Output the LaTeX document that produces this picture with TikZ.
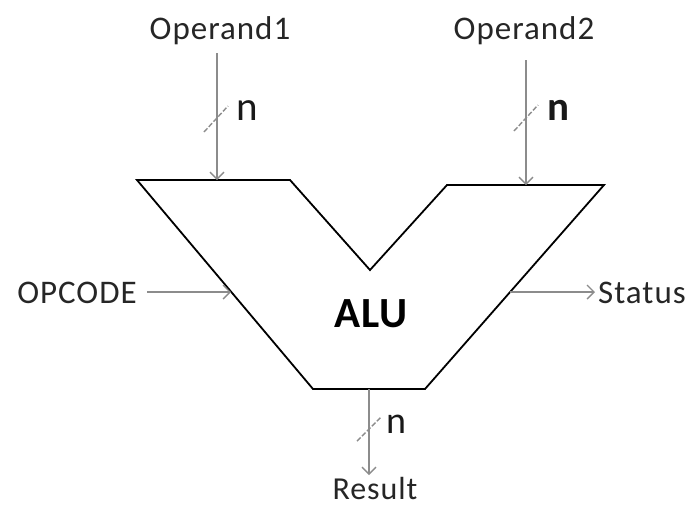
\documentclass[tikz,border=0pt]{standalone}
\usepackage{fontspec}
\setmainfont{Carlito}[LetterSpace=3]
\usetikzlibrary{arrows.meta,calc}
\begin{document}
\begin{tikzpicture}[x=1pt,y=-1pt,
  sig/.style={draw=black!45, line width=1.4pt, -{Straight Barb[length=7pt,width=14pt]}},
  slashmark/.style={draw=black!45, line width=1.4pt, dash pattern=on 5pt off 2pt},
  lbl/.style={font=\fontsize{33}{36}\selectfont, text=black!85, inner sep=0pt, anchor=base},
  buslbl/.style={font=\fontsize{41}{44}\selectfont, text=black!90, inner sep=0pt, anchor=base},
  alushape/.style={draw=black, line width=1.8pt, line join=miter}]
\useasboundingbox (0,0) rectangle (686,507);
% ALU outline
\coordinate (A) at (137,180);
\coordinate (B) at (290,180);
\coordinate (C) at (370,270);
\coordinate (D) at (447,185);
\coordinate (E) at (604,185);
\coordinate (F) at (425,389);
\coordinate (G) at (313,389);
\draw[alushape] (A) -- (B) -- (C) -- (D) -- (E) -- (F) -- (G) -- cycle;
\node[font=\fontsize{43}{46}\selectfont\bfseries, inner sep=0pt, anchor=base] (alu) at (371,327) {ALU};
% attachment points
\coordinate (t1) at (217,180);
\coordinate (t2) at (526,185);
\coordinate (lin) at (231,292);
\coordinate (rout) at (510,292);
\coordinate (bot) at (369,389);
% labels
\node[lbl] (op1) at (220,39) {Operand1};
\node[lbl] (op2) at (524,39) {Operand2};
\node[lbl] (opc) at (77,303) {OPCODE};
\node[lbl, anchor=base west] (st) at (598,303) {Status};
\node[lbl, text depth=0pt, font=\fontsize{32}{34}\selectfont] (res) at (375,499) {Result};
\coordinate (s1) at (217,53);
\coordinate (s2) at (526,60);
\coordinate (e3) at (369,475);
\coordinate (oc) at (147,292);
\coordinate (se) at (595,292);
% arrows
\draw[sig] (s1) -- (t1);
\draw[sig] (s2) -- (t2);
\draw[sig] (oc) -- (lin);
\draw[sig] (rout) -- (se);
\draw[sig] (bot) -- (e3);
% bus slashes
\coordinate (m1) at (216,119);
\coordinate (m2) at (526,118);
\coordinate (m3) at (369,429);
\draw[slashmark] ($(m1)+(-12,13)$) -- ($(m1)+(12,-13)$);
\draw[slashmark] ($(m2)+(-12,13)$) -- ($(m2)+(12,-13)$);
\draw[slashmark] ($(m3)+(-12,12)$) -- ($(m3)+(12,-12)$);
\node[buslbl] (n1) at (247,120) {n};
\node[buslbl, font=\fontsize{41}{44}\selectfont\bfseries] (n2) at (558,120) {n};
\node[buslbl, font=\fontsize{38}{40}\selectfont] (n3) at (396,433) {n};
\end{tikzpicture}
\end{document}
